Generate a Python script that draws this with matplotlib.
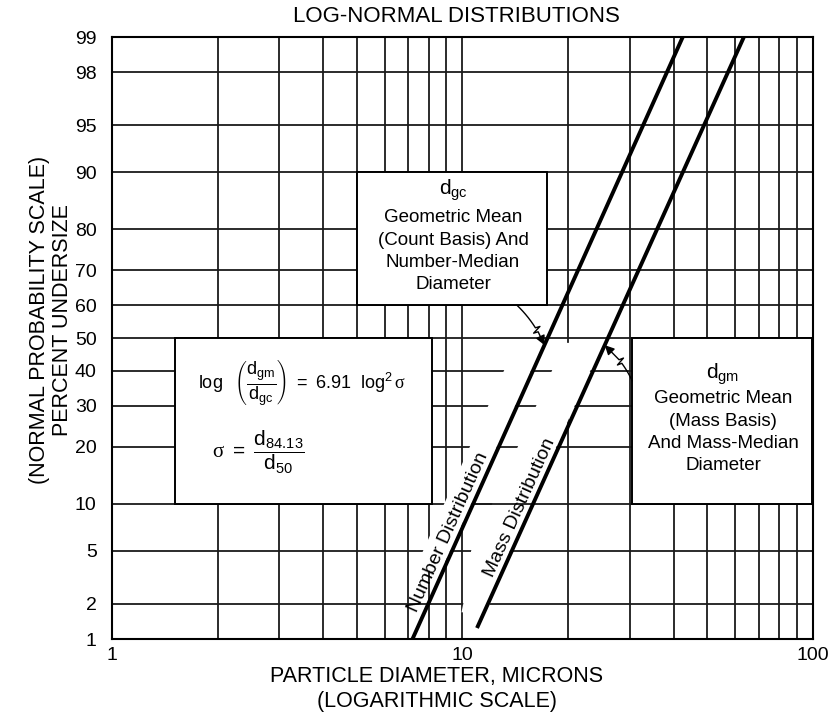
import numpy as np
import matplotlib
matplotlib.use('Agg')
import matplotlib.pyplot as plt
import matplotlib.transforms as mtransforms
from matplotlib.patches import Rectangle, Polygon, FancyArrowPatch
from matplotlib.path import Path
from matplotlib.ticker import NullLocator, FixedLocator, NullFormatter
from statistics import NormalDist

plt.rcParams['font.family'] = ['Liberation Sans', 'DejaVu Sans']
plt.rcParams['mathtext.fontset'] = 'custom'
plt.rcParams['mathtext.rm'] = 'Liberation Sans'
plt.rcParams['mathtext.it'] = 'Liberation Sans'
plt.rcParams['mathtext.sf'] = 'Liberation Serif'

# end points of the two straight lines: diameter (microns) vs percent undersize
number_size = [7.2, 42.5]
number_pct = [1.0, 99.0]
mass_size = [11.0, 63.5]
mass_pct = [1.25, 99.0]

pct_ticks = [1, 2, 5, 10, 20, 30, 40, 50, 60, 70, 80, 90, 95, 98, 99]
size_ticks = [1, 10, 100]
size_minor = [2, 3, 4, 5, 6, 7, 8, 9, 20, 30, 40, 50, 60, 70, 80, 90]

_nd = NormalDist()


def prob_fwd(p):
    p = np.clip(np.asarray(p, dtype=float), 1e-6, 100 - 1e-6)
    return np.vectorize(lambda v: _nd.inv_cdf(v / 100.0), otypes=[float])(p)


def prob_inv(z):
    z = np.asarray(z, dtype=float)
    return np.vectorize(lambda v: 100.0 * _nd.cdf(v), otypes=[float])(z)


def line_x(size, pct, p):
    # diameter on a straight probability line at percent p
    z = prob_fwd(pct)
    lg = np.log10(size)
    zp = prob_fwd(p)
    return 10 ** (lg[0] + (zp - z[0]) * (lg[1] - lg[0]) / (z[1] - z[0]))


fig = plt.figure(figsize=(8.32, 7.25), dpi=100)
ax = fig.add_axes([112 / 832, 1 - 639 / 725, 701 / 832, 602 / 725])
ax.set_xscale('log')
ax.set_xlim(1, 100)
ax.set_yscale('function', functions=(prob_fwd, prob_inv))
ax.set_ylim(1, 99)

ax.yaxis.set_major_locator(FixedLocator(pct_ticks))
ax.set_yticklabels([str(v) for v in pct_ticks])
ax.yaxis.set_minor_locator(NullLocator())
ax.xaxis.set_major_locator(FixedLocator(size_ticks))
ax.set_xticklabels([str(v) for v in size_ticks])
ax.xaxis.set_minor_locator(FixedLocator(size_minor))
ax.xaxis.set_minor_formatter(NullFormatter())
ax.tick_params(which='both', length=0, labelsize=14, colors='black')
ax.tick_params(axis='y', pad=11)
ax.tick_params(axis='x', pad=6)

grid_kw = dict(color='#1a1a1a', lw=1.3)
ax.grid(True, which='both', axis='x', **grid_kw)
ax.grid(True, which='major', axis='y', **grid_kw)
ax.set_axisbelow(True)
for sp in ax.spines.values():
    sp.set_linewidth(1.5)

to_disp = ax.transData
ident = mtransforms.IdentityTransform()


def band(rows):
    # white strip; rows = (percent, line, pixel offset) for left edge going
    # down, then right edge coming back up
    pts = []
    for p, line, d in rows:
        xd, yd = to_disp.transform((line_x(line[0], line[1], p), p))
        pts.append((xd + d, yd))
    ax.add_patch(Polygon(pts, closed=True, transform=ident, facecolor='white',
                         edgecolor='none', zorder=1))


num = (number_size, number_pct)
mas = (mass_size, mass_pct)
band([(47.0, num, -29), (3.6, num, -29), (3.6, num, -2), (47.0, num, -2)])
band([(48.5, num, 19), (5.0, num, 19), (2.0, num, 35), (1.7, num, 37),
      (1.7, mas, 2), (2.0, mas, 2), (5.0, mas, -2), (48.5, mas, -3)])

# 10 % line runs on between the two lines
ax.plot([line_x(*num, 10), line_x(*mas, 10)], [10, 10], zorder=1.5, **grid_kw)

# boxes
box_kw = dict(facecolor='white', edgecolor='black', lw=1.4, zorder=2)
ax.add_patch(Rectangle((1.51, 10), 8.18 - 1.51, 40, **box_kw))
ax.add_patch(Rectangle((5.0, 60), 17.4 - 5.0, 30, **box_kw))
ax.add_patch(Rectangle((30.5, 10), 99.5 - 30.5, 40, **box_kw))

# distribution lines
ax.plot(number_size, number_pct, color='black', lw=2.8, zorder=4,
        solid_capstyle='butt')
ax.plot(mass_size, mass_pct, color='black', lw=2.8, zorder=4,
        solid_capstyle='butt')


def along(line, p, label):
    x = line_x(line[0], line[1], p)
    x1 = line_x(line[0], line[1], p + 5)
    a = to_disp.transform((x, p))
    b = to_disp.transform((x1, p + 5))
    ang = np.degrees(np.arctan2(b[1] - a[1], b[0] - a[0]))
    tr = mtransforms.offset_copy(ax.transData, fig=fig, x=-2, y=1, units='dots')
    ax.text(x, p, label, rotation=ang, rotation_mode='anchor', ha='center',
            va='bottom', fontsize=14, transform=tr, zorder=5)


along(num, 6.2, 'Number Distribution')
along(mas, 8.9, 'Mass Distribution')


# box texts (axes fraction from pixel rows)
def fy(py):
    return (639 - py) / 602


def fx(px):
    return (px - 112) / 701


tkw = dict(transform=ax.transAxes, ha='center', va='center', fontsize=13.5,
           zorder=5)
ax.text(fx(453), fy(190), r'$\mathregular{d_{gc}}$', **{**tkw, 'fontsize': 15})
for py, s in [(217, 'Geometric Mean'), (240, '(Count Basis) And'),
              (262, 'Number-Median'), (284, 'Diameter')]:
    ax.text(fx(453), fy(py), s, **tkw)

ax.text(fx(723), fy(374), r'$\mathregular{d_{gm}}$', **{**tkw, 'fontsize': 15})
for py, s in [(398, 'Geometric Mean'), (421, '(Mass Basis)'),
              (443, 'And Mass-Median'), (465, 'Diameter')]:
    ax.text(fx(723), fy(py), s, **tkw)

ax.text(fx(302), fy(383),
        r'$\log\ \ \left(\dfrac{d_{gm}}{d_{gc}}\right)\ =\ 6.91\ \ \log^{2}\mathsf{\sigma}$',
        **{**tkw, 'fontsize': 13})
ax.text(fx(258), fy(452), r'$\mathsf{\sigma}\ =\ \dfrac{d_{84.13}}{d_{50}}$',
        **{**tkw, 'fontsize': 15})


def squiggle_arrow(start, end, frac=0.6, amp=4.5, bow=6.0):
    # slightly bowed leader with a small zigzag kink, in pixel space
    s = np.array(to_disp.transform(start))
    e = np.array(to_disp.transform(end))
    d = e - s
    n = np.array([-d[1], d[0]]) / np.hypot(*d)
    c = s + d * 0.5 + n * bow
    t1 = np.linspace(0, frac, 8)
    curve = [(1 - t) ** 2 * s + 2 * (1 - t) * t * c + t ** 2 * e for t in t1]
    m = curve[-1]
    verts = curve + [m + n * amp + d * 0.03, m - n * amp + d * 0.07,
                     m + d * 0.10, e]
    path = Path(verts, [Path.MOVETO] + [Path.LINETO] * (len(verts) - 1))
    ax.add_patch(FancyArrowPatch(path=path, arrowstyle='-|>', color='black',
                                 lw=1.0, mutation_scale=14, transform=ident,
                                 zorder=5))


squiggle_arrow((14.3, 60), (line_x(*num, 47.8), 47.8), bow=5.0)
squiggle_arrow((30.5, 37), (line_x(*mas, 47.8), 47.8), frac=0.45, bow=-5.0)

fig.text(456 / 832, 1 - 17 / 725, 'LOG-NORMAL DISTRIBUTIONS', ha='center',
         va='center', fontsize=16)
fig.text(437 / 832, 1 - 689 / 725,
         'PARTICLE DIAMETER, MICRONS\n(LOGARITHMIC SCALE)', ha='center',
         va='center', fontsize=15.5, linespacing=1.2)
fig.text(51 / 832, 1 - 320 / 725,
         '(NORMAL PROBABILITY SCALE)\nPERCENT UNDERSIZE', ha='center',
         va='center', rotation=90, fontsize=15.5, linespacing=1.15)

fig.savefig('out.png', dpi=100)
